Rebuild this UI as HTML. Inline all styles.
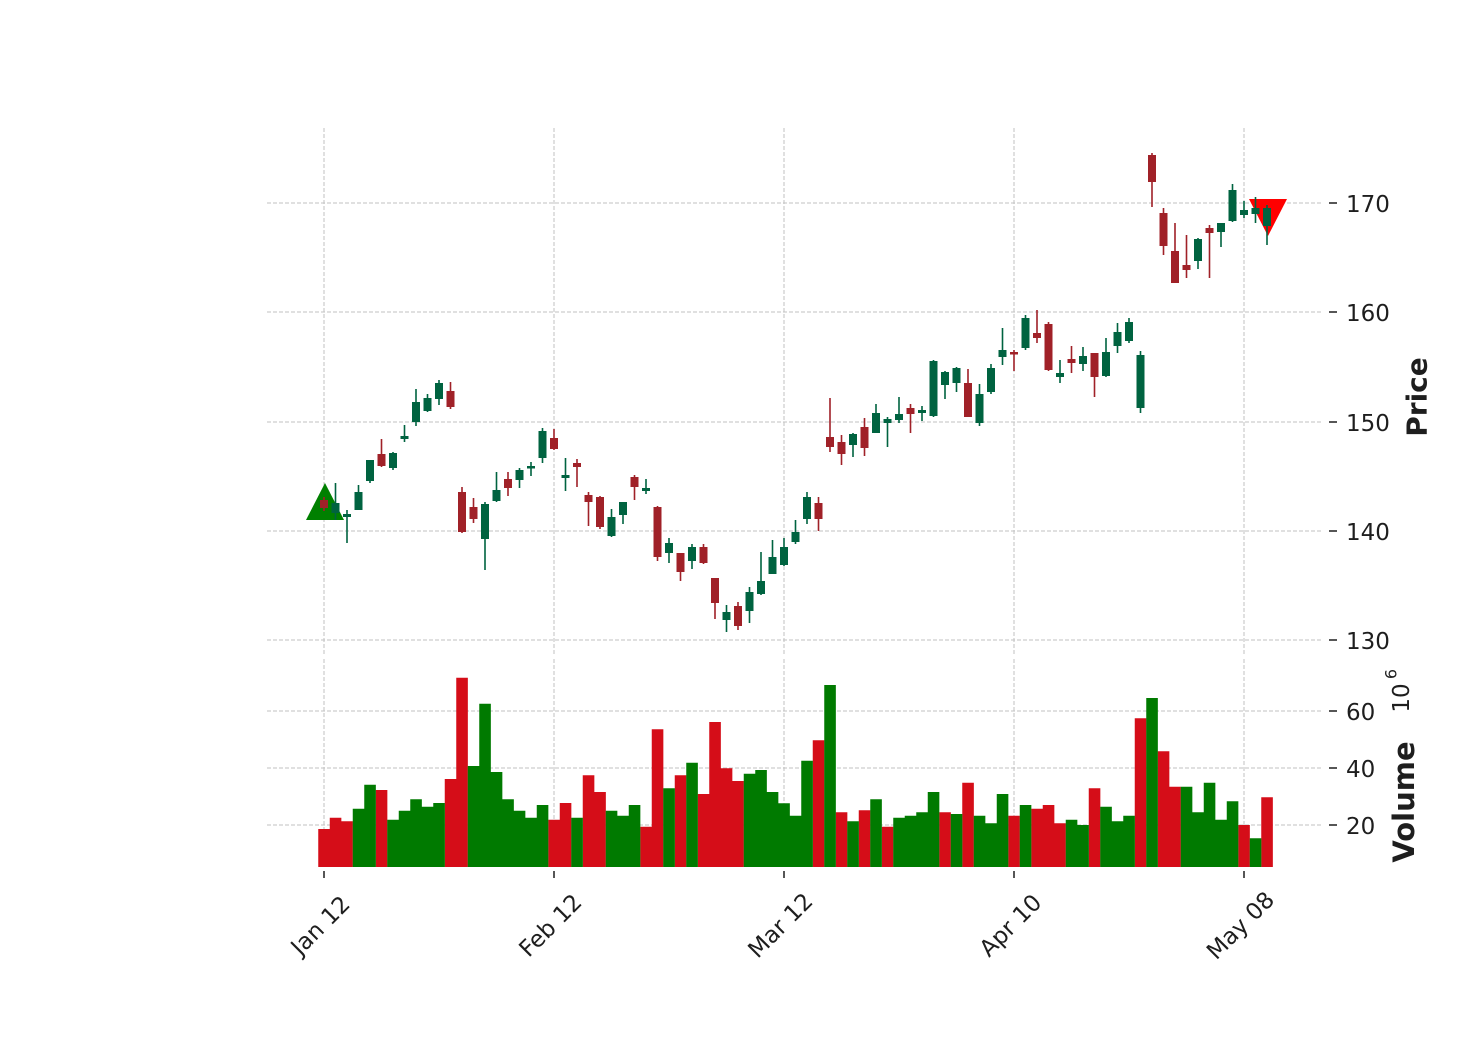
<!DOCTYPE html>
<html>
<head>
<meta charset="utf-8">
<style>
html,body{margin:0;padding:0;background:#fff;}
svg{display:block;}
text{font-family:"DejaVu Sans","Liberation Sans",sans-serif;fill:#1e1e1e;}
</style>
</head>
<body>
<svg width="1474" height="1059" viewBox="0 0 1474 1059" xmlns="http://www.w3.org/2000/svg">
<rect width="1474" height="1059" fill="#fff"/>
<!-- grid -->
<g stroke="#c2c2c2" stroke-width="1" stroke-dasharray="4 2" fill="none">
<path d="M267 203H1322M267 312H1322M267 422H1322M267 531H1322M267 640H1322"/>
<path d="M267 711H1322M267 768H1322M267 825H1322"/>
<path d="M324 128V655M554 128V655M784 128V655M1014 128V655M1244 128V655"/>
<path d="M324 659V867M554 659V867M784 659V867M1014 659V867M1244 659V867"/>
</g>
<!-- volume bars -->
<path fill="#d50d18" d="M318.25 867V829h11.6V867zM329.75 867V817.7h11.6V867zM341.25 867V821.3h11.6V867zM375.75 867V790h11.6V867zM444.75 867V779h11.6V867zM456.25 867V677.7h11.6V867zM548.25 867V819.7h11.6V867zM559.75 867V803h11.6V867zM582.75 867V775.3h11.6V867zM594.25 867V792h11.6V867zM640.25 867V826.7h11.6V867zM651.75 867V729.3h11.6V867zM674.75 867V775.3h11.6V867zM697.75 867V794h11.6V867zM709.25 867V722h11.6V867zM720.75 867V768.3h11.6V867zM732.25 867V781h11.6V867zM812.75 867V740.3h11.6V867zM835.75 867V812.3h11.6V867zM858.75 867V810.3h11.6V867zM881.75 867V826.7h11.6V867zM939.25 867V812.3h11.6V867zM962.25 867V782.7h11.6V867zM1008.25 867V815.7h11.6V867zM1031.25 867V808.7h11.6V867zM1042.75 867V805h11.6V867zM1054.25 867V823.3h11.6V867zM1088.75 867V788.3h11.6V867zM1134.75 867V718.3h11.6V867zM1157.75 867V751.3h11.6V867zM1169.25 867V786.7h11.6V867zM1238.25 867V825h11.6V867zM1261.25 867V797.3h11.6V867z"/>
<path fill="#007a00" d="M352.75 867V808.7h11.6V867zM364.25 867V784.7h11.6V867zM387.25 867V819.7h11.6V867zM398.75 867V810.7h11.6V867zM410.25 867V799.3h11.6V867zM421.75 867V806.7h11.6V867zM433.25 867V803h11.6V867zM467.75 867V766h11.6V867zM479.25 867V703.7h11.6V867zM490.75 867V772h11.6V867zM502.25 867V799.3h11.6V867zM513.75 867V810.7h11.6V867zM525.25 867V817.7h11.6V867zM536.75 867V805h11.6V867zM571.25 867V817.7h11.6V867zM605.75 867V810.7h11.6V867zM617.25 867V815.7h11.6V867zM628.75 867V805h11.6V867zM663.25 867V788.3h11.6V867zM686.25 867V762.7h11.6V867zM743.75 867V773.7h11.6V867zM755.25 867V770h11.6V867zM766.75 867V792h11.6V867zM778.25 867V803.3h11.6V867zM789.75 867V815.7h11.6V867zM801.25 867V760.7h11.6V867zM824.25 867V685h11.6V867zM847.25 867V821.3h11.6V867zM870.25 867V799.3h11.6V867zM893.25 867V817.7h11.6V867zM904.75 867V815.7h11.6V867zM916.25 867V812.3h11.6V867zM927.75 867V792h11.6V867zM950.75 867V814h11.6V867zM973.75 867V815.7h11.6V867zM985.25 867V823.3h11.6V867zM996.75 867V794h11.6V867zM1019.75 867V805h11.6V867zM1065.75 867V819.7h11.6V867zM1077.25 867V825h11.6V867zM1100.25 867V806.7h11.6V867zM1111.75 867V821.3h11.6V867zM1123.25 867V815.7h11.6V867zM1146.25 867V698h11.6V867zM1180.75 867V786.7h11.6V867zM1192.25 867V812.3h11.6V867zM1203.75 867V782.7h11.6V867zM1215.25 867V819.7h11.6V867zM1226.75 867V801.3h11.6V867zM1249.75 867V838.3h11.6V867z"/>
<!-- markers -->
<polygon points="306,520 344,520 325,483" fill="#008000"/>
<polygon points="1249,199 1287,199 1268,236" fill="#ff0000"/>
<!-- candle wicks -->
<path stroke="#006340" stroke-width="1.6" fill="none" d="M335.5 483V520M347 510V543M358.5 485V510M370 460V483M393 452V470M404.5 425V442M416 389V426M427.5 394V412M439 380V405M485 502V570M496.5 472V502M519.5 468V488M531 462V476M542.5 428V463M565.5 458V491M611.5 509V537M623 502V524M646 479V494M669 538V563M692 544V569M726.5 605V632M749.5 587V623M761 552V595M772.5 540V574M784 538V566M795.5 520V544M807 492V524M853 433V457M876 404V433M887.5 417V447M899 397V423M922 406V421M933.5 360V417M945 371V399M956.5 367V392M979.5 384V426M991 364V394M1002.5 328V365M1025.5 315V350M1060 360V383M1083 347V371M1106 338V377M1117.5 323V353M1129 318V343M1140.5 351V413M1198 238V269M1221 223V247M1232.5 184V222M1244 201V218M1255.5 197V223M1267 205V245"/>
<path stroke="#a02128" stroke-width="1.6" fill="none" d="M324 497V511M381.5 439V467M450.5 382V409M462 487V533M473.5 498V523M508 472V496M554 429V450M577 459V487M588.5 492V526M600 496V529M634.5 475V500M657.5 506V561M680.5 553V581M703.5 544V564M715 578V619M738 602V630M818.5 497V531M830 398V452M841.5 435V465M864.5 418V456M910.5 404V433M968 369V417M1014 350V371M1037 310V343M1048.5 322V371M1071.5 346V373M1094.5 353V397M1152 153V207M1163.5 208V255M1175 223V283M1186.5 235V278M1209.5 225V278"/>
<!-- candle bodies -->
<path fill="#006340" d="M331.5 503h8v10h-8zM343 514h8v3h-8zM354.5 492h8v18h-8zM366 460h8v21h-8zM389 453h8v15h-8zM400.5 436h8v3h-8zM412 402h8v20h-8zM423.5 398h8v13h-8zM435 383h8v16h-8zM481 504h8v35h-8zM492.5 490h8v11h-8zM515.5 470h8v10h-8zM527 466h8v2.5h-8zM538.5 431h8v27h-8zM561.5 475h8v3h-8zM607.5 517h8v19h-8zM619 502h8v13h-8zM642 488h8v3h-8zM665 543h8v10h-8zM688 547h8v14h-8zM722.5 612h8v8h-8zM745.5 592h8v19h-8zM757 581h8v13h-8zM768.5 557h8v17h-8zM780 547h8v18h-8zM791.5 532h8v10h-8zM803 497h8v22h-8zM849 434h8v11h-8zM872 413h8v20h-8zM883.5 419h8v4h-8zM895 414h8v6h-8zM918 410h8v3h-8zM929.5 361h8v55h-8zM941 372h8v13h-8zM952.5 368h8v15h-8zM975.5 394h8v29h-8zM987 368h8v24h-8zM998.5 350h8v7h-8zM1021.5 318h8v30h-8zM1056 373h8v4h-8zM1079 356h8v8h-8zM1102 352h8v24h-8zM1113.5 332h8v14h-8zM1125 322h8v19h-8zM1136.5 355h8v53h-8zM1194 239h8v22h-8zM1217 223h8v9h-8zM1228.5 190h8v31h-8zM1240 210h8v5h-8zM1251.5 208h8v6h-8zM1263 208h8v18h-8z"/>
<path fill="#a02128" d="M320 500h8v8h-8zM377.5 454h8v12h-8zM446.5 391h8v16h-8zM458 492h8v40h-8zM469.5 507h8v12h-8zM504 479h8v9h-8zM550 438h8v11h-8zM573 463h8v4h-8zM584.5 495h8v7h-8zM596 497h8v30h-8zM630.5 477h8v10h-8zM653.5 507h8v50h-8zM676.5 553h8v19h-8zM699.5 547h8v16h-8zM711 578h8v25h-8zM734 606h8v20h-8zM814.5 503h8v16h-8zM826 437h8v10h-8zM837.5 442h8v12h-8zM860.5 427h8v21h-8zM906.5 408h8v6h-8zM964 383h8v34h-8zM1010 352h8v2.5h-8zM1033 333h8v5h-8zM1044.5 324h8v46h-8zM1067.5 359h8v4h-8zM1090.5 353h8v24h-8zM1148 155h8v27h-8zM1159.5 213h8v33h-8zM1171 251h8v32h-8zM1182.5 265h8v5h-8zM1205.5 228h8v5h-8z"/>
<!-- y ticks -->
<g stroke="#1e1e1e" stroke-width="1.5">
<path d="M1329 203H1337M1329 312H1337M1329 422H1337M1329 531H1337M1329 640H1337M1329 711H1337M1329 768H1337M1329 825H1337"/>
<path d="M324 871V878M554 871V878M784 871V878M1014 871V878M1244 871V878"/>
</g>
<g font-size="23">
<text x="1346" y="212">170</text>
<text x="1346" y="321">160</text>
<text x="1346" y="431">150</text>
<text x="1346" y="540">140</text>
<text x="1346" y="649">130</text>
<text x="1346" y="720">60</text>
<text x="1346" y="777">40</text>
<text x="1346" y="834">20</text>
</g>
<!-- x tick labels -->
<g font-size="23" text-anchor="middle" dominant-baseline="central">
<text x="321" y="926" transform="rotate(-45 321 926)">Jan 12</text>
<text x="551" y="926" transform="rotate(-45 551 926)">Feb 12</text>
<text x="781" y="926" transform="rotate(-45 781 926)">Mar 12</text>
<text x="1011" y="926" transform="rotate(-45 1011 926)">Apr 10</text>
<text x="1241" y="926" transform="rotate(-45 1241 926)">May 08</text>
</g>
<!-- axis labels -->
<text x="1417" y="397" font-size="28" font-weight="bold" text-anchor="middle" dominant-baseline="central" transform="rotate(-90 1417 397)">Price</text>
<text x="1404" y="802" font-size="29" font-weight="bold" text-anchor="middle" dominant-baseline="central" transform="rotate(-90 1404 802)">Volume</text>
<text x="1402" y="698" font-size="23" text-anchor="middle" dominant-baseline="central" transform="rotate(-90 1402 698)">10</text>
<text x="1391" y="674" font-size="16" text-anchor="middle" dominant-baseline="central" transform="rotate(-90 1391 674)">6</text>
</svg>
</body>
</html>
